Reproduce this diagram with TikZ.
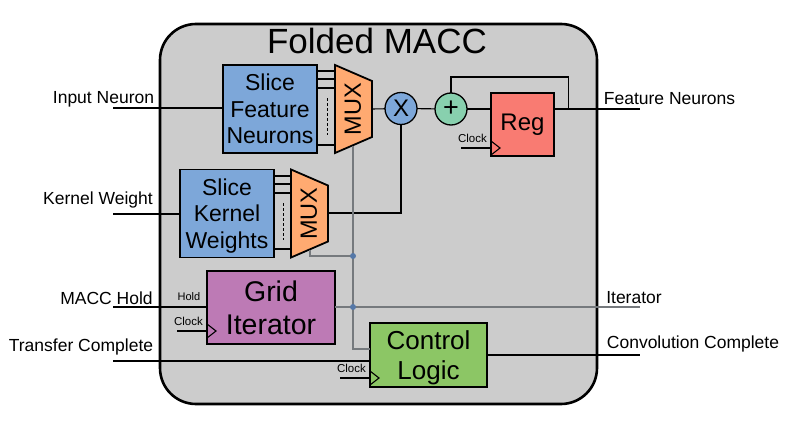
\documentclass[tikz,border=0pt]{standalone}
\usepackage{fontspec}
\setmainfont{Liberation Sans}

\definecolor{shellgray}{HTML}{CCCCCC}
\definecolor{sliceblue}{HTML}{7DA7D9}
\definecolor{muxorange}{HTML}{FFAA71}
\definecolor{regred}{HTML}{F97B72}
\definecolor{addgreen}{HTML}{88D0AE}
\definecolor{gridpurple}{HTML}{BD7AB5}
\definecolor{logicgreen}{HTML}{8CC665}
\definecolor{selectgray}{HTML}{75797D}
\definecolor{jointblue}{HTML}{5578A8}

\tikzset{
  block/.style={draw=black, line width=1.8pt, outer sep=0pt, inner sep=0pt, align=center},
  slicebox/.style={block, fill=sliceblue, minimum width=94pt, minimum height=88pt,
    font=\fontsize{23}{26.5}\selectfont},
  muxshape/.style={draw=black, line width=1.8pt, fill=muxorange, line join=miter},
  muxtext/.style={rotate=90, inner sep=0pt, font=\fontsize{23.5}{24}\selectfont},
  oper/.style={circle, draw=black, line width=1.3pt, outer sep=0pt, inner sep=0pt, minimum size=32pt,
    font=\fontsize{24}{24}\selectfont},
  wire/.style={draw=black, line width=1.1pt},
  selwire/.style={draw=selectgray, line width=1.1pt},
  dotline/.style={draw=black, line width=1pt, dash pattern=on 2.5pt off 2.5pt},
  joint/.style={circle, fill=jointblue, inner sep=0pt, minimum size=6pt},
  portlabel/.style={font=\fontsize{17.5}{20}\selectfont},
  ticklabel/.style={font=\fontsize{11.5}{12}\selectfont}
}

\begin{document}
\begin{tikzpicture}[x=1pt, y=-1pt]
    \useasboundingbox (0,0) rectangle (795,428);

    % Draw Shell
    \draw[line width=2.6pt, fill=shellgray, rounded corners=36pt] (160,24) rectangle (597,404);
    \node (title) at (377,41) {\fontsize{35}{36}\selectfont Folded MACC};

    % Draw Free Ends
    \coordinate (inneuron) at (113,108);
    \coordinate (inkernel) at (113,214);
    \coordinate (inhold) at (113,307);
    \coordinate (intransfer) at (113,361);
    \coordinate (outfeature) at (640,109);
    \coordinate (outiter) at (640,307);
    \coordinate (outconv) at (640,355);

    % Draw Blocks
    \node[slicebox] (slicefeat) at (270,109) {Slice\\Feature\\Neurons};
    \node[slicebox] (slicekern) at (227,213.5) {Slice\\Kernel\\\smash{Weights}};
    \node[oper, fill=sliceblue] (times) at (401,108.5) {X};
    \node[oper, fill=addgreen] (plus) at (451,109) {\fontsize{27}{27}\selectfont +};
    \node[block, fill=regred, line width=1.3pt, minimum width=63pt, minimum height=63pt,
      font=\fontsize{24}{24}\selectfont] (reg) at (522.5,124.5) {\raisebox{-2pt}{Reg}};
    \node[block, fill=gridpurple, line width=1.3pt, minimum width=128pt, minimum height=73pt,
      font=\fontsize{28.5}{33}\selectfont] (grid) at (271,307.5) {Grid\\Iterator};
    \node[block, fill=logicgreen, minimum width=117pt, minimum height=64pt,
      font=\fontsize{26}{30}\selectfont] (logic) at (428.5,355) {Control\\\smash{Logic}};

    % Draw Muxes
    \foreach \x/\y/\n in {335/109/feat, 291/213.5/kern}{
      \draw[muxshape] (\x,\y-44) -- (\x+37,\y-28) -- (\x+37,\y+28) -- (\x,\y+44) -- cycle;
      \node[muxtext] (mux\n) at (\x+18,\y) {MUX};
    }

    % Draw Slice Lines
    \foreach \y/\n in {71/a, 79/b, 88/c, 145/d}{
      \coordinate (feat\n) at (335,\y);
      \draw[wire] (slicefeat.east |- feat\n) -- (feat\n);
    }
    \foreach \y/\n in {176/a, 184/b, 193/c, 249/d}{
      \coordinate (kern\n) at (291,\y);
      \draw[wire] (slicekern.east |- kern\n) -- (kern\n);
    }
    \draw[dotline] (327,98) -- (327,135);
    \draw[dotline] (283,203) -- (283,240);

    % Draw Data Path
    \draw[wire] (inneuron) -- (slicefeat.west |- inneuron);
    \draw[wire] (inkernel) -- (slicekern.west |- inkernel);
    \draw[wire] (372,109) -- (times);
    \draw[wire] (328,213) -| (times);
    \draw[wire] (times) -- (plus);
    \draw[wire] (plus) -- (reg.west |- plus);
    \draw[wire] (reg.east |- outfeature) -- (outfeature);
    \draw[wire] (568.5,109) |- (451,77) -- (plus);
    \draw[wire] (inhold) -- (grid.west |- inhold);
    \draw[wire] (intransfer) -- (logic.west |- intransfer);
    \draw[wire] (logic.east |- outconv) -- (outconv);

    % Draw Select Lines
    \coordinate (seljoint) at (353,256);
    \coordinate (iterjoint) at (353,307);
    \draw[selwire] (353,146) -- (iterjoint) |- (logic.west |- 0,349);
    \draw[selwire] (310,250) |- (seljoint);
    \draw[selwire] (grid.east |- outiter) -- (outiter);
    \draw[selectgray, line width=2pt] (grid.east |- outiter) -- (iterjoint);
    \node[joint] (jointa) at (seljoint) {};
    \node[joint] (jointb) at (iterjoint) {};

    % Draw Clocks
    \foreach \x/\y/\t in {491/148/reg, 207/331/grid, 370/378/logic}{
      \coordinate (clk\t) at (\x,\y);
      \draw[wire] (\x-30,\y) -- (clk\t);
      \draw[black, line width=1.1pt] (\x,\y-7) -- (\x+9,\y) -- (\x,\y+7);
      \node[ticklabel, anchor=south] (clktext\t) at (\x-18.5,\y-1.5) {Clock};
    }
    \node[ticklabel, font=\fontsize{11}{12}\selectfont] (holdtext) at (189,297) {Hold};

    % Draw Port Labels
    \node[portlabel] (lblneuron) at (103.5,99) {Input Neuron};
    \node[portlabel] (lblkernel) at (98,200) {Kernel Weight};
    \node[portlabel] (lblhold) at (106.5,298) {MACC Hold};
    \node[portlabel] (lbltransfer) at (81,347) {Transfer Complete};
    \node[portlabel] (lblfeature) at (669.5,99) {Feature Neurons};
    \node[portlabel] (lbliter) at (634,298) {Iterator};
    \node[portlabel] (lblconv) at (693,344) {Convolution Complete};
\end{tikzpicture}
\end{document}
